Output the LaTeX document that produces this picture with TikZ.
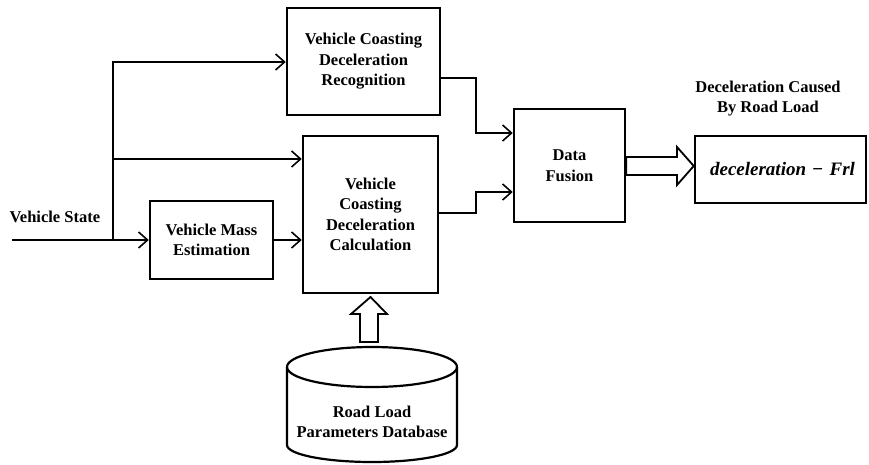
\documentclass[tikz,border=0pt]{standalone}
\usepackage{fontspec}
\setmainfont{Liberation Serif}
\usetikzlibrary{arrows.meta}
\tikzset{
  blk/.style={draw, line width=2.5pt, inner sep=0pt, align=center, font=\bfseries\fontsize{16.5}{20.5}\selectfont},
  conn/.style={line width=1.6pt, -{Straight Barb[length=9pt,width=16pt,line width=1.6pt]}},
  fat/.style={line width=1.8pt, fill=white, line join=miter},
  lbl/.style={align=center, font=\bfseries\fontsize{16.5}{20}\selectfont}
}
\begin{document}
\begin{tikzpicture}[x=1pt,y=-1pt]
\useasboundingbox (0,0) rectangle (869,465);
% blocks
\node[blk, minimum width=153, minimum height=107] (rec) at (363.5,61.5) {Vehicle Coasting\\Deceleration\\Recognition};
\node[blk, minimum width=135, minimum height=157] (calc) at (370.5,214.5) {Vehicle\\Coasting\\Deceleration\\Calculation};
\node[blk, minimum width=123, minimum height=78] (mass) at (211.5,240) {Vehicle Mass\\Estimation};
\node[blk, minimum width=111, minimum height=113] (fus) at (569.5,165.5) {Data\\Fusion};
\node[blk, minimum width=171, minimum height=67, font=\bfseries\fontsize{19}{24}\selectfont] (out) at (780.5,169.5) {\hspace*{4pt}\textit{deceleration}\,\,−\,\,\textit{Frl}};
% labels
\node[lbl, anchor=base west] (vs) at (6,222) {Vehicle State};
\node[lbl] (dcl) at (768,99) {Deceleration Caused\\By Road Load};
% input and branches
\coordinate (in) at (12,240);
\coordinate (br) at (113,240);
\draw[conn] (in) -- (mass.west);
\draw[conn] (br) -- (br |- 0,62) -- (rec.west |- 0,62);
\draw[conn] (br |- 0,159) -- (calc.west |- 0,159);
\draw[conn] (mass.east) -- (calc.west |- mass.east);
% to fusion
\draw[conn] (rec.east |- 0,78) -- (476,78) -- (476,133) -- (fus.west |- 0,133);
\draw[conn] (calc.east |- 0,213) -- (476,213) -- (476,192) -- (fus.west |- 0,192);
% block arrow fusion -> output
\draw[fat] (fus.east |- 0,157) -- (677,157) -- (677,147) -- (out.west |- 0,166) -- (677,185) -- (677,175) -- (fus.east |- 0,175) -- cycle;
% block arrow database -> calc
\draw[fat] (360,342) -- (360,314) -- (351,314) -- (calc.south |- 0,297) -- (387,314) -- (378,314) -- (378,342) -- cycle;
% database cylinder
\draw[line width=2.2pt] (287,367) -- (287,445) arc[start angle=180, end angle=360, x radius=85, y radius=-17] -- (457,367);
\draw[line width=2.2pt] (372,367) ellipse[x radius=85, y radius=20];
\node[lbl] (db) at (372,422) {Road Load\\Parameters Database};
\end{tikzpicture}
\end{document}
